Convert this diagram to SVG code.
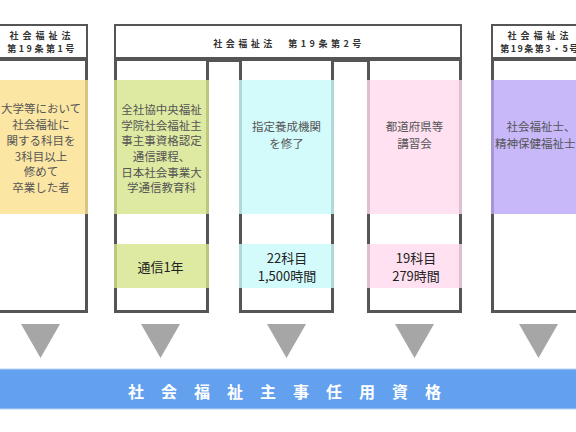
<svg xmlns="http://www.w3.org/2000/svg" width="576" height="432" viewBox="0 0 576 432">
<style>
  text { font-family: "Noto Sans CJK JP", "Noto Sans", sans-serif; }
  .hdr { fill: #ffffff; stroke: #555555; stroke-width: 2; }
  .band { fill: #555555; }
  .col { fill: #ffffff; stroke: #555555; stroke-width: 3; }
  .ht { font-size: 9px; font-weight: bold; fill: #333333; text-anchor: middle; letter-spacing: 2.5px; }
  .bt { font-size: 11.5px; fill: #555555; text-anchor: middle; }
  .lt { font-size: 13px; fill: #222222; text-anchor: middle; }
  .tri { fill: #a6a6a6; }
  .y { fill: #fbe08d; fill-opacity: 0.8; }
  .g { fill: #d6e48b; fill-opacity: 0.8; }
  .c { fill: #c9fafb; fill-opacity: 0.8; }
  .p { fill: #ffdaee; fill-opacity: 0.8; }
  .v { fill: #baa6f9; fill-opacity: 0.8; }
</style>
<rect width="576" height="432" fill="#ffffff"/>

<!-- headers -->
<g id="header1">
  <rect class="hdr" x="-6" y="25" width="93" height="33"/>
  <rect class="band" x="-6" y="57" width="94" height="5"/>
  <text class="ht" x="42" y="38.5" style="letter-spacing:4px">社会福祉法</text>
  <text class="ht" x="42" y="51.5">第19条第1号</text>
</g>
<g id="header2">
  <rect class="hdr" x="115" y="25" width="346" height="33"/>
  <rect class="band" x="114" y="57" width="348" height="5"/>
  <text class="ht" x="289" y="46.5" style="letter-spacing:3.5px">社会福祉法　第19条第2号</text>
</g>
<g id="header5">
  <rect class="hdr" x="492" y="25" width="94" height="33"/>
  <rect class="band" x="491" y="57" width="95" height="5"/>
  <text class="ht" x="540" y="38.5" style="letter-spacing:4px">社会福祉法</text>
  <text class="ht" x="540" y="51.5" style="letter-spacing:1.5px">第19条第3・5号</text>
</g>

<!-- column 1 -->
<g id="col1">
  <rect class="col" x="-6" y="59.5" width="92.5" height="252"/>
  <rect class="y" x="-6" y="80" width="94" height="134"/>
  <text class="bt" x="41" y="113">大学等において</text>
  <text class="bt" x="41" y="129">社会福祉に</text>
  <text class="bt" x="41" y="145">関する科目を</text>
  <text class="bt" x="41" y="160.5">3科目以上</text>
  <text class="bt" x="41" y="176">修めて</text>
  <text class="bt" x="41" y="191.5">卒業した者</text>
</g>

<!-- column 2 -->
<g id="col2">
  <rect class="col" x="115.5" y="59.5" width="92" height="252"/>
  <rect class="g" x="114" y="80" width="95" height="134"/>
  <rect class="g" x="114" y="244" width="95" height="44"/>
  <text class="bt" x="161.5" y="113.5">全社協中央福祉</text>
  <text class="bt" x="161.5" y="129.5">学院社会福祉主</text>
  <text class="bt" x="161.5" y="145">事主事資格認定</text>
  <text class="bt" x="161.5" y="161">通信課程、</text>
  <text class="bt" x="161.5" y="176.5">日本社会事業大</text>
  <text class="bt" x="161.5" y="192">学通信教育科</text>
  <text class="lt" x="160.5" y="271.5">通信1年</text>
</g>

<!-- column 3 -->
<g id="col3">
  <rect class="col" x="240.5" y="59.5" width="92" height="252"/>
  <rect class="c" x="239" y="80" width="95" height="134"/>
  <rect class="c" x="239" y="244" width="95" height="44"/>
  <text class="bt" x="286.5" y="131">指定養成機関</text>
  <text class="bt" x="286.5" y="147.5">を修了</text>
  <text class="lt" x="287" y="262.5">22科目</text>
  <text class="lt" x="287" y="281">1,500時間</text>
</g>

<!-- column 4 -->
<g id="col4">
  <rect class="col" x="368.5" y="59.5" width="92" height="252"/>
  <rect class="p" x="367" y="80" width="95" height="134"/>
  <rect class="p" x="367" y="244" width="95" height="44"/>
  <text class="bt" x="414.5" y="131">都道府県等</text>
  <text class="bt" x="414.5" y="147.5">講習会</text>
  <text class="lt" x="416" y="262.5">19科目</text>
  <text class="lt" x="416" y="281">279時間</text>
</g>

<!-- column 5 -->
<g id="col5">
  <rect class="col" x="492.5" y="59.5" width="95" height="252"/>
  <rect class="v" x="491" y="80" width="97" height="134"/>
  <text class="bt" x="541" y="131">社会福祉士、</text>
  <text class="bt" x="541" y="147.5">精神保健福祉士等</text>
</g>

<!-- connectors (arrows) -->
<g id="connectors">
  <polygon class="tri" points="21,324 60,324 40.5,358"/>
  <polygon class="tri" points="141,324 180,324 160.5,358"/>
  <polygon class="tri" points="267,324 306,324 286.5,358"/>
  <polygon class="tri" points="395,324 434,324 414.5,358"/>
  <polygon class="tri" points="519,324 558,324 538.5,358"/>
</g>

<!-- result bar -->
<g id="result">
  <rect x="-2" y="369" width="580" height="40" fill="#63a1ef" stroke="#b7d4f7" stroke-width="1"/>
  <text x="128" y="397.5" font-size="16" font-weight="bold" fill="#ffffff" style="letter-spacing:17px">社会福祉主事任用資格</text>
</g>
</svg>
